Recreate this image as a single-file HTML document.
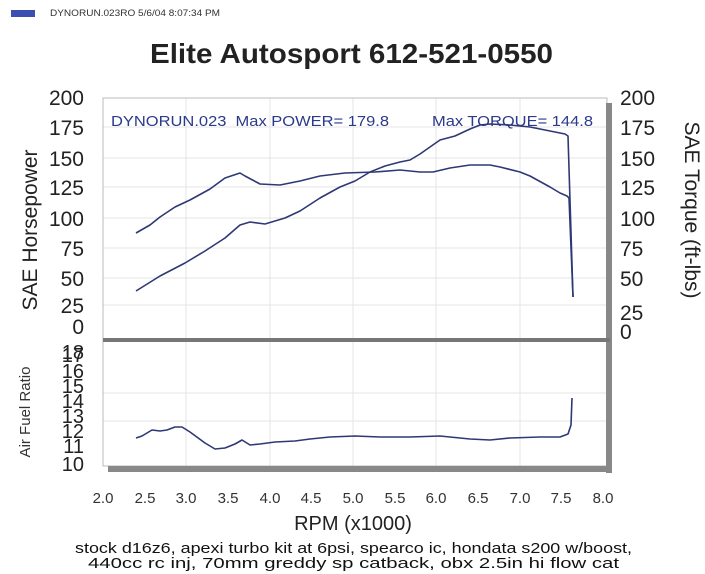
<!DOCTYPE html>
<html><head><meta charset="utf-8"><style>
html,body{margin:0;padding:0;background:#fff;}
svg{display:block;font-family:"Liberation Sans",sans-serif;}
</style></head><body>
<svg width="705" height="574" viewBox="0 0 705 574" xmlns="http://www.w3.org/2000/svg">
<rect x="11" y="10" width="24" height="7" fill="#3a4fb0"/>
<text x="50" y="16" font-size="9" fill="#333" textLength="170" lengthAdjust="spacingAndGlyphs">DYNORUN.023RO  5/6/04 8:07:34 PM</text>
<text x="150" y="63" font-size="28" font-weight="bold" fill="#222" textLength="403" lengthAdjust="spacingAndGlyphs">Elite Autosport 612-521-0550</text>
<!-- grid -->
<g stroke="#e4e4e4" stroke-width="1">
<line x1="186" y1="98" x2="186" y2="466"/><line x1="270" y1="98" x2="270" y2="466"/>
<line x1="353" y1="98" x2="353" y2="466"/><line x1="436" y1="98" x2="436" y2="466"/>
<line x1="520" y1="98" x2="520" y2="466"/>
<line x1="103" y1="127" x2="606" y2="127"/><line x1="103" y1="158" x2="606" y2="158"/>
<line x1="103" y1="187" x2="606" y2="187"/><line x1="103" y1="218" x2="606" y2="218"/>
<line x1="103" y1="248" x2="606" y2="248"/><line x1="103" y1="278" x2="606" y2="278"/>
<line x1="103" y1="305" x2="606" y2="305"/>
<line x1="103" y1="393" x2="606" y2="393"/><line x1="103" y1="421" x2="606" y2="421"/>
</g>
<rect x="103" y="98" width="504" height="368" fill="none" stroke="#bbb" stroke-width="1"/>
<rect x="606" y="103" width="6" height="370" fill="#888"/>
<rect x="103" y="338" width="507" height="4" fill="#777"/>
<rect x="108" y="466" width="504" height="6" fill="#888"/>
<g font-size="21" fill="#222" text-anchor="end">
<text x="84" y="105">200</text><text x="84" y="135">175</text><text x="84" y="166">150</text>
<text x="84" y="195">125</text><text x="84" y="226">100</text><text x="84" y="256">75</text>
<text x="84" y="286">50</text><text x="84" y="313">25</text><text x="84" y="334">0</text>
</g>
<g font-size="20" fill="#222" text-anchor="end">
<text x="84" y="359">18</text><text x="84" y="362">17</text><text x="84" y="378">16</text>
<text x="84" y="393">15</text><text x="84" y="408">14</text><text x="84" y="423">13</text>
<text x="84" y="438">12</text><text x="84" y="453">11</text><text x="84" y="471">10</text>
</g>
<g font-size="21" fill="#222">
<text x="620" y="105">200</text><text x="620" y="135">175</text><text x="620" y="166">150</text>
<text x="620" y="195">125</text><text x="620" y="226">100</text><text x="620" y="256">75</text>
<text x="620" y="286">50</text><text x="620" y="320">25</text><text x="620" y="339">0</text>
</g>
<text transform="translate(37,230) rotate(-90)" font-size="21" fill="#222" text-anchor="middle">SAE Horsepower</text>
<text transform="translate(685,210) rotate(90)" font-size="21" fill="#222" text-anchor="middle">SAE Torque (ft-lbs)</text>
<text transform="translate(30,412) rotate(-90)" font-size="15" fill="#333" text-anchor="middle">Air Fuel Ratio</text>
<g font-size="15" fill="#333" text-anchor="middle">
<text x="103" y="503">2.0</text><text x="145" y="503">2.5</text><text x="186" y="503">3.0</text>
<text x="228" y="503">3.5</text><text x="270" y="503">4.0</text><text x="311" y="503">4.5</text>
<text x="353" y="503">5.0</text><text x="395" y="503">5.5</text><text x="436" y="503">6.0</text>
<text x="478" y="503">6.5</text><text x="520" y="503">7.0</text><text x="561" y="503">7.5</text>
<text x="603" y="503">8.0</text>
</g>
<text x="353" y="530" font-size="20" fill="#222" text-anchor="middle">RPM (x1000)</text>
<text x="75" y="553" font-size="15" fill="#111" textLength="557" lengthAdjust="spacingAndGlyphs">stock d16z6, apexi turbo kit at 6psi, spearco ic, hondata s200 w/boost,</text>
<text x="88" y="568" font-size="15" fill="#111" textLength="531" lengthAdjust="spacingAndGlyphs">440cc rc inj, 70mm greddy sp catback, obx 2.5in hi flow cat</text>
<g font-size="14.5" fill="#2b3a8a">
<text x="111" y="126" textLength="278" lengthAdjust="spacingAndGlyphs" xml:space="preserve">DYNORUN.023  Max POWER= 179.8</text>
<text x="432" y="126" textLength="161" lengthAdjust="spacingAndGlyphs">Max TORQUE= 144.8</text>
</g>
<g fill="none" stroke="#2e3875" stroke-width="1.6" stroke-linejoin="round">
<polyline points="136,233 150,225 160,217 175,207 190,200 210,189 225,178 240,173 245,176 260,184 280,185 300,181 320,176 345,173 375,172 400,170 420,172 433,172 450,168 470,165 490,165 500,167 520,172 530,176 550,187 560,193 567,196 569,198 573,297"/>
<polyline points="136,291 160,276 185,263 205,251 225,238 240,225 250,222 265,224 285,218 300,211 320,198 340,187 355,181 370,172 385,166 400,162 410,160 420,154 430,147 440,140 455,136 470,129 480,125 490,124 510,125 530,127 550,131 565,134 568,136 573,297"/>
<polyline points="136,438 142,436 152,430 160,431 167,430 175,427 182,427 190,432 205,443 215,449 225,448 235,444 242,440 250,445 260,444 275,442 295,441 310,439 330,437 355,436 380,437 410,437 440,436 470,439 490,440 510,438 540,437 560,437 568,434 571,425 572,398"/>
</g>
</svg>
</body></html>
